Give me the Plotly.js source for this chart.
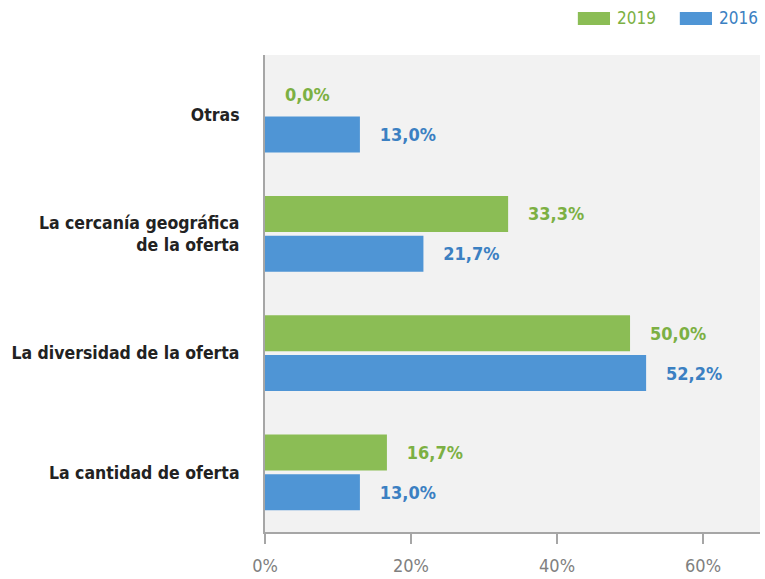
<!DOCTYPE html>
<html>
<head>
<meta charset="utf-8">
<script src="https://cdn.plot.ly/plotly-3.0.1.min.js"></script>
<style>html,body{margin:0;padding:0;background:#fff;}#chart{width:765px;height:579px;}</style>
</head>
<body>
<div id="chart"></div>
<script>
const categories = ["Otras", "La cercanía geográfica<br>de la oferta", "La diversidad de la oferta", "La cantidad de oferta"];
const values2019 = [0.0, 33.3, 50.0, 16.7];
const values2016 = [13.0, 21.7, 52.2, 13.0];
const seriesNames = ["2019", "2016"];
const tickValues = [0, 20, 40, 60];

const green = "#8bbd55", blue = "#4f95d5";
const greenText = "#7cb043", blueText = "#3b80c2";
const FONT = "'DejaVu Sans Condensed', 'Liberation Sans Narrow', sans-serif";

function fmt(v) { return "\u00a0\u00a0\u00a0" + v.toFixed(1).replace(".", ",") + "%"; }

const traces = [
  {type: "bar", orientation: "h", name: seriesNames[0], y: categories, x: values2019,
   marker: {color: green}, text: values2019.map(fmt), textposition: "outside", cliponaxis: false,
   textfont: {family: FONT, size: 18, color: greenText, weight: "bold"}, hoverinfo: "x"},
  {type: "bar", orientation: "h", name: seriesNames[1], y: categories, x: values2016,
   marker: {color: blue}, text: values2016.map(fmt), textposition: "outside", cliponaxis: false,
   textfont: {family: FONT, size: 18, color: blueText, weight: "bold"}, hoverinfo: "x"}
];

const layout = {
  width: 765, height: 579,
  margin: {l: 265, r: 5, t: 55, b: 47},
  paper_bgcolor: "#ffffff",
  plot_bgcolor: "#f2f2f2",
  barmode: "group",
  bargap: 0.33,
  bargroupgap: 0.1,
  showlegend: false,
  xaxis: {
    range: [0, 67.8], tickvals: tickValues, ticktext: tickValues.map(v => v + "%"),
    showgrid: false, zeroline: false, showline: true, linecolor: "#a6a6a6", linewidth: 2,
    ticks: "outside", ticklen: 10, tickwidth: 2, tickcolor: "#a6a6a6",
    ticklabelstandoff: 6,
    tickfont: {family: FONT, size: 18, color: "#808080"}
  },
  yaxis: {
    categoryorder: "array", categoryarray: categories, autorange: "reversed",
    showgrid: false, zeroline: false, showline: true, linecolor: "#a6a6a6", linewidth: 2,
    ticks: "", ticklabelstandoff: 20,
    tickfont: {family: FONT, size: 17.5, color: "#222222", weight: "bold"}
  },
  shapes: [
    {type: "rect", xref: "paper", yref: "paper", x0: 0.632, x1: 0.697, y0: 1.063, y1: 1.09,
     fillcolor: green, line: {width: 0}},
    {type: "rect", xref: "paper", yref: "paper", x0: 0.838, x1: 0.903, y0: 1.063, y1: 1.09,
     fillcolor: blue, line: {width: 0}}
  ],
  annotations: [
    {xref: "paper", yref: "paper", x: 0.708, y: 1.077, xanchor: "left", yanchor: "middle",
     text: seriesNames[0], showarrow: false, font: {family: FONT, size: 17, color: greenText}},
    {xref: "paper", yref: "paper", x: 0.914, y: 1.077, xanchor: "left", yanchor: "middle",
     text: seriesNames[1], showarrow: false, font: {family: FONT, size: 17, color: blueText}}
  ]
};

Plotly.newPlot("chart", traces, layout, {displayModeBar: false, staticPlot: true});
</script>
</body>
</html>
